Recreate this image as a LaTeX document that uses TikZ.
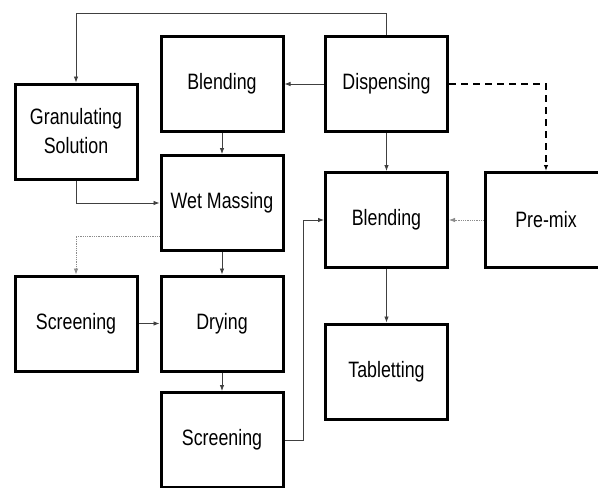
\documentclass[tikz,border=0pt]{standalone}
\usepackage{fontspec}
\setmainfont{Liberation Sans}
\usepackage{graphicx}
\usepackage{tikz}
\usetikzlibrary{arrows.meta}

\newcommand{\tall}[1]{\scalebox{1}[1.25]{#1}}

\begin{document}
\begin{tikzpicture}[x=1pt, y=-1pt,
    box/.style={draw, line width=3pt, minimum width=122pt, minimum height=95pt,
      align=center, font=\fontsize{17.8}{29}\selectfont},
    flow/.style={draw=black!75, line width=0.8pt, -{Latex[length=6pt,width=4.5pt]}},
    faint/.style={flow, draw=black!45, densely dotted},
    optional/.style={flow, draw=black, line width=2pt, dash pattern=on 7pt off 5pt}]
    \clip (0,0) rectangle (598,488);
    \fill[white] (0,0) rectangle (598,488);

    % Process boxes
    \node[box] (gran) at (76,131.5) {\tall{Granulating}\\\tall{Solution}};
    \node[box] (blendA) at (222,84) {\tall{Blending}};
    \node[box] (wet) at (222,203) {\tall{Wet Massing}};
    \node[box] (disp) at (386.5,84) {\tall{Dispensing}};
    \node[box] (blendB) at (386.5,220) {\tall{Blending}};
    \node[box] (premix) at (546,220) {\tall{Pre-mix}};
    \node[box] (screenL) at (76,323.5) {\tall{Screening}};
    \node[box] (dry) at (222,323.5) {\tall{Drying}};
    \node[box] (screenB) at (222,440) {\tall{Screening}};
    \node[box] (tab) at (386.5,371.5) {\tall{Tabletting}};

    % Wet granulation route
    \draw[flow] (disp.north) -- ++(0,-22) -| (gran.north);
    \draw[flow] (disp.west) -- (blendA.east);
    \draw[flow] (blendA.south) -- (wet.north);
    \draw[flow] (gran.south) |- (wet.west);
    \draw[faint] ([yshift=-33pt]wet.west) -| (screenL.north);
    \draw[flow] (wet.south) -- (dry.north);
    \draw[flow] (screenL.east) -- (dry.west);
    \draw[flow] (dry.south) -- (screenB.north);
    \draw[flow] (screenB.east) -- ++(19,0) |- (blendB.west);

    % Direct route
    \draw[flow] (disp.south) -- (blendB.north);
    \draw[optional] (disp.east) -| (premix.north);
    \draw[faint] (premix.west) -- (blendB.east);
    \draw[flow] (blendB.south) -- (tab.north);
\end{tikzpicture}
\end{document}
